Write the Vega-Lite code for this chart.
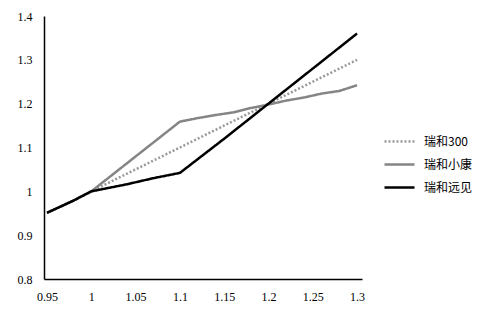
{
  "$schema": "https://vega.github.io/schema/vega-lite/v6.json",
  "width": 318,
  "height": 263,
  "autosize": "none",
  "padding": {"left": 44, "top": 16, "right": 128, "bottom": 44},
  "background": "white",
  "config": {"view": {"stroke": null}},
  "data": {"values": [
    {"x": 0.95, "y": 0.951, "s": "瑞和300"},
    {"x": 0.98, "y": 0.979, "s": "瑞和300"},
    {"x": 1.0, "y": 1.0, "s": "瑞和300"},
    {"x": 1.1, "y": 1.1, "s": "瑞和300"},
    {"x": 1.2, "y": 1.2, "s": "瑞和300"},
    {"x": 1.3, "y": 1.3, "s": "瑞和300"},
    {"x": 0.95, "y": 0.951, "s": "瑞和小康"},
    {"x": 0.98, "y": 0.979, "s": "瑞和小康"},
    {"x": 1.0, "y": 1.0, "s": "瑞和小康"},
    {"x": 1.1, "y": 1.159, "s": "瑞和小康"},
    {"x": 1.12, "y": 1.167, "s": "瑞和小康"},
    {"x": 1.14, "y": 1.174, "s": "瑞和小康"},
    {"x": 1.16, "y": 1.18, "s": "瑞和小康"},
    {"x": 1.18, "y": 1.19, "s": "瑞和小康"},
    {"x": 1.2, "y": 1.198, "s": "瑞和小康"},
    {"x": 1.22, "y": 1.207, "s": "瑞和小康"},
    {"x": 1.24, "y": 1.214, "s": "瑞和小康"},
    {"x": 1.26, "y": 1.223, "s": "瑞和小康"},
    {"x": 1.28, "y": 1.229, "s": "瑞和小康"},
    {"x": 1.3, "y": 1.242, "s": "瑞和小康"},
    {"x": 0.95, "y": 0.951, "s": "瑞和远见"},
    {"x": 0.98, "y": 0.979, "s": "瑞和远见"},
    {"x": 1.0, "y": 1.0, "s": "瑞和远见"},
    {"x": 1.04, "y": 1.016, "s": "瑞和远见"},
    {"x": 1.07, "y": 1.03, "s": "瑞和远见"},
    {"x": 1.1, "y": 1.042, "s": "瑞和远见"},
    {"x": 1.15, "y": 1.12, "s": "瑞和远见"},
    {"x": 1.2, "y": 1.2, "s": "瑞和远见"},
    {"x": 1.25, "y": 1.28, "s": "瑞和远见"},
    {"x": 1.3, "y": 1.36, "s": "瑞和远见"}
  ]},
  "mark": {"type": "line", "strokeCap": "butt", "strokeJoin": "miter", "clip": true},
  "encoding": {
    "x": {
      "field": "x", "type": "quantitative",
      "scale": {"domain": [0.9466, 1.3056], "nice": false, "zero": false},
      "axis": {
        "values": [0.95, 1.0, 1.05, 1.1, 1.15, 1.2, 1.25, 1.3],
        "format": "~g", "title": null, "grid": false, "ticks": false,
        "domainColor": "#000", "domainWidth": 1.5,
        "labelFont": "Times New Roman, Liberation Serif, serif", "labelFontSize": 12, "labelColor": "#000",
        "labelPadding": 12
      }
    },
    "y": {
      "field": "y", "type": "quantitative",
      "scale": {"domain": [0.8, 1.4], "nice": false, "zero": false},
      "axis": {
        "values": [0.8, 0.9, 1.0, 1.1, 1.2, 1.3, 1.4],
        "format": "~g", "title": null, "grid": false, "ticks": false,
        "domainColor": "#000", "domainWidth": 1.5,
        "labelFont": "Times New Roman, Liberation Serif, serif", "labelFontSize": 12, "labelColor": "#000",
        "labelPadding": 12
      }
    },
    "color": {
      "field": "s", "type": "nominal",
      "scale": {"domain": ["瑞和300", "瑞和小康", "瑞和远见"], "range": ["#999999", "#858585", "#000000"]},
      "legend": {
        "title": null, "orient": "none", "legendX": 339, "legendY": 109,
        "symbolType": "stroke", "symbolSize": 900,
        "labelFont": "Noto Sans CJK SC", "labelFontSize": 12, "labelColor": "#000",
        "labelOffset": 8, "rowPadding": -2
      }
    },
    "strokeDash": {
      "field": "s", "type": "nominal",
      "scale": {"domain": ["瑞和300", "瑞和小康", "瑞和远见"], "range": [[2, 2], [1, 0], [1, 0]]},
      "legend": null
    },
    "strokeWidth": {
      "field": "s", "type": "nominal",
      "scale": {"domain": ["瑞和300", "瑞和小康", "瑞和远见"], "range": [2.5, 2.5, 3.2]},
      "legend": null
    }
  }
}
